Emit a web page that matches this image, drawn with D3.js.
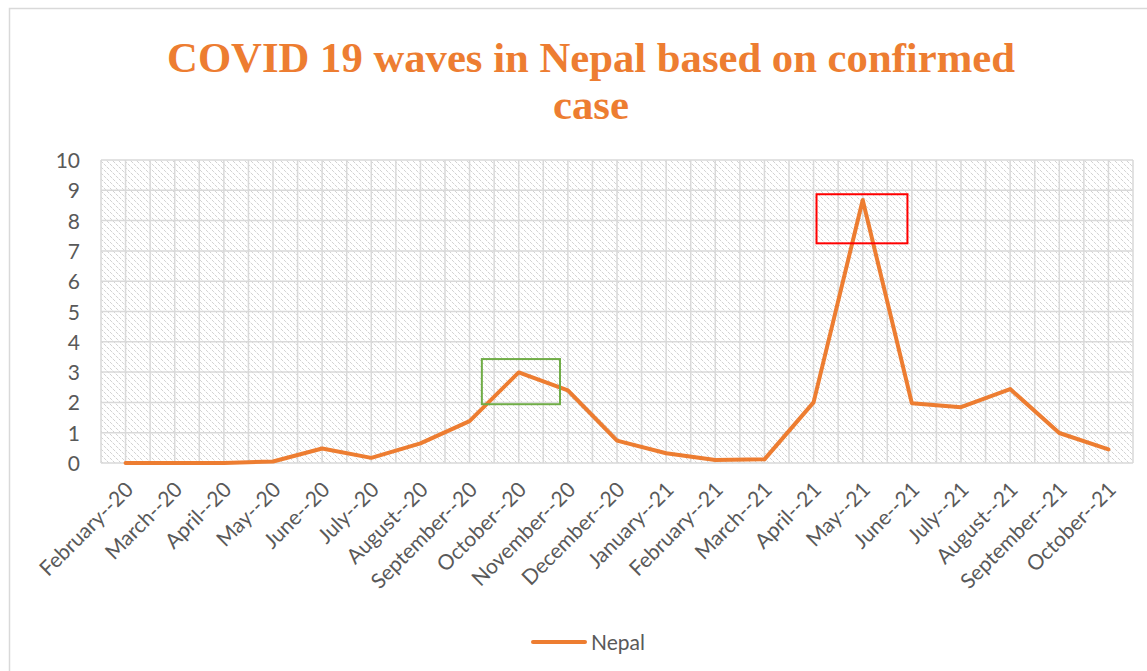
<!DOCTYPE html>
<html>
<head>
<meta charset="utf-8">
<script src="https://cdn.jsdelivr.net/npm/d3@7"></script>
<style>
  html, body { margin: 0; padding: 0; background: #fff; }
  svg { display: block; }
</style>
</head>
<body>
<svg id="chart" width="1147" height="671"></svg>
<script>
// Monthly confirmed-case index for Nepal
const months = ["February--20","March--20","April--20","May--20","June--20","July--20",
  "August--20","September--20","October--20","November--20","December--20","January--21",
  "February--21","March--21","April--21","May--21","June--21","July--21","August--21",
  "September--21","October--21"];
const nepal = [0, 0, 0, 0.05, 0.48, 0.17, 0.65, 1.38, 2.99, 2.4, 0.74, 0.32, 0.1, 0.12,
  2.0, 8.68, 1.97, 1.84, 2.44, 0.99, 0.45];
const yTicks = [0,1,2,3,4,5,6,7,8,9,10];
// Highlight boxes: [start index, end index, top value, bottom value]
const waveBoxes = [
  { x0: 7.25, x1: 8.84, y0: 3.43, y1: 1.94, color: "#70AD47" },
  { x0: 14.06, x1: 15.91, y0: 8.87, y1: 7.25, color: "#FF0000" }
];

const svg = d3.select("#chart");
const W = 1147, H = 671;
const plot = { left: 101, right: 1133, top: 160, bottom: 463 };
const orange = "#ED7D31";
const grid = "#d9d9d9";
const textGray = "#595959";
const sans = "Lato, 'Open Sans', sans-serif";

// Chart frame
svg.append("rect").attr("x", 9.5).attr("y", 8.5).attr("width", W + 20).attr("height", H + 20)
  .attr("fill", "#fff").attr("stroke", grid).attr("stroke-width", 1.5);

// Diagonal hatch for the plot area
const defs = svg.append("defs");
const pat = defs.append("pattern").attr("id", "hatch").attr("patternUnits", "userSpaceOnUse")
  .attr("width", 6).attr("height", 6);
pat.append("path").attr("d", "M-1,-1 L7,7 M-1,5 L1,7 M5,-1 L7,1")
  .attr("stroke", "#d2d2d2").attr("stroke-width", 1).attr("stroke-dasharray", "3,1");

const x = d3.scaleBand().domain(months).range([plot.left, plot.right]);
const cx = d => x(d) + x.bandwidth() / 2;
const xi = i => plot.left + i * x.bandwidth() + x.bandwidth() / 2;
const y = d3.scaleLinear().domain([0, 10]).range([plot.bottom, plot.top]);

svg.append("rect").attr("x", plot.left).attr("y", plot.top)
  .attr("width", plot.right - plot.left).attr("height", plot.bottom - plot.top)
  .attr("fill", "url(#hatch)");

// Horizontal gridlines
svg.append("g").selectAll("line").data(yTicks).join("line")
  .attr("x1", plot.left).attr("x2", plot.right)
  .attr("y1", d => y(d)).attr("y2", d => y(d))
  .attr("stroke", grid).attr("stroke-width", 1.5);

// Vertical gridlines at band edges and band centres
const vLines = [];
months.forEach(m => { vLines.push(x(m)); vLines.push(cx(m)); });
vLines.push(plot.right);
svg.append("g").selectAll("line").data(vLines).join("line")
  .attr("x1", d => d).attr("x2", d => d)
  .attr("y1", plot.top).attr("y2", plot.bottom)
  .attr("stroke", grid).attr("stroke-width", 1.5);

// Y axis labels
const yAxis = d3.axisLeft(y).tickValues(yTicks).tickSize(0).tickPadding(0);
const gy = svg.append("g").attr("transform", `translate(80,0)`).call(yAxis);
gy.select(".domain").remove();
gy.selectAll("text").attr("fill", textGray).attr("font-family", sans)
  .attr("font-size", 21).attr("dy", "0.36em");

// X axis labels, rotated
const xAxis = d3.axisBottom(x).tickSize(0).tickPadding(0);
const gx = svg.append("g").attr("transform", `translate(0,${plot.bottom})`).call(xAxis);
gx.select(".domain").remove();
gx.selectAll(".tick text")
  .attr("fill", textGray).attr("font-family", sans)
  .attr("font-size", 21).attr("text-anchor", "end")
  .attr("dy", 0).attr("y", 0)
  .attr("transform", "translate(9,28) rotate(-45)");

// Series line
const line = d3.line().x((d, i) => cx(months[i])).y(d => y(d));
svg.append("path").datum(nepal).attr("d", line)
  .attr("fill", "none").attr("stroke", orange).attr("stroke-width", 4)
  .attr("stroke-linejoin", "round").attr("stroke-linecap", "round");

// Wave highlight boxes
svg.append("g").selectAll("rect").data(waveBoxes).join("rect")
  .attr("x", d => xi(d.x0)).attr("y", d => y(d.y0))
  .attr("width", d => xi(d.x1) - xi(d.x0)).attr("height", d => y(d.y1) - y(d.y0))
  .attr("fill", "none").attr("stroke", d => d.color).attr("stroke-width", 2);

// Title
const title = svg.append("text").attr("text-anchor", "middle")
  .attr("font-family", "'Liberation Serif', 'Times New Roman', serif")
  .attr("font-weight", "bold").attr("font-size", 42.7).attr("fill", orange);
title.append("tspan").attr("x", 591).attr("y", 72).text("COVID 19 waves in Nepal based on confirmed");
title.append("tspan").attr("x", 591).attr("y", 119).text("case");

// Legend
svg.append("line").attr("x1", 533).attr("x2", 585).attr("y1", 642).attr("y2", 642)
  .attr("stroke", orange).attr("stroke-width", 4).attr("stroke-linecap", "round");
svg.append("text").attr("x", 591).attr("y", 642).attr("dy", "0.36em")
  .attr("font-family", sans).attr("font-size", 21)
  .attr("fill", textGray).text("Nepal");
</script>
</body>
</html>
